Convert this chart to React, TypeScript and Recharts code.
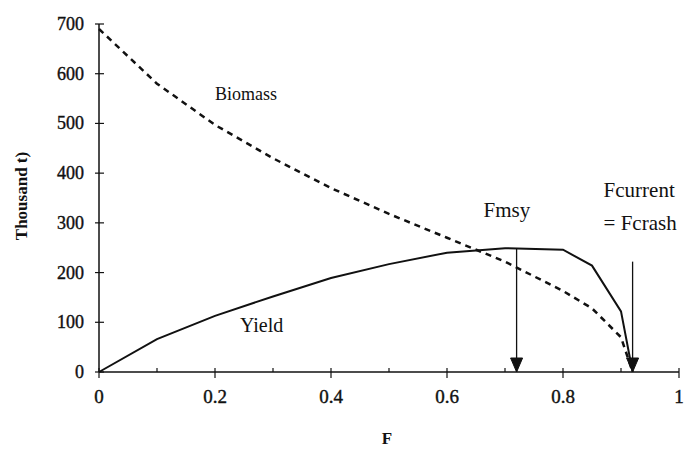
import React from "react";
import {
  LineChart,
  Line,
  XAxis,
  YAxis,
  ReferenceDot,
  Label,
} from "recharts";

// fishing mortality F on the x axis
const fValues = [0, 0.1, 0.2, 0.3, 0.4, 0.5, 0.6, 0.7, 0.8, 0.85, 0.9, 0.92];
const yieldValues = [0, 66, 113, 152, 189, 217, 240, 249, 246, 214, 122, 0];
const biomassValues = [690, 580, 497, 430, 370, 318, 270, 222, 163, 128, 70, 0];

const xTicks = [0, 0.1, 0.2, 0.3, 0.4, 0.5, 0.6, 0.7, 0.8, 0.9, 1];
const yTicks = [0, 100, 200, 300, 400, 500, 600, 700];

const fmsy = 0.72;
const fcrash = 0.92;
const fmsyArrowTop = 249;
const fcrashArrowTop = 222;

const annotations = [
  { f: 0.2, v: 548, text: "Biomass", size: 18 },
  { f: 0.243, v: 81, text: "Yield", size: 20 },
  { f: 0.663, v: 312, text: "Fmsy", size: 21 },
  { f: 0.87, v: 353, text: "Fcurrent", size: 21 },
  { f: 0.87, v: 286, text: "= Fcrash", size: 21 },
];

const data = fValues.map((f, i) => ({
  f,
  yield: yieldValues[i],
  biomass: biomassValues[i],
}));

const fmsyArrow = [
  { f: fmsy, v: fmsyArrowTop },
  { f: fmsy, v: 0 },
];
const fcrashArrow = [
  { f: fcrash, v: fcrashArrowTop },
  { f: fcrash, v: 0 },
];

const INK = "#111";
const FONT = "'Liberation Serif', 'Times New Roman', serif";

const fmtF = (v: number) => (v === 0 ? "0" : v === 1 ? "1" : v.toFixed(1));

const XTick = ({ x, y, payload }: any) => {
  const v = payload.value;
  const major = Math.round(v * 10) % 2 === 0;
  return (
    <g>
      <line
        x1={x}
        x2={x}
        y1={y - 4}
        y2={major ? y + 6 : y}
        stroke={INK}
        strokeWidth={1.2}
      />
      {major && (
        <text
          x={x}
          y={y + 31}
          textAnchor="middle"
          fontSize={19}
          fontFamily={FONT}
          fill={INK}
          stroke={INK}
          strokeWidth={0.4}
        >
          {fmtF(v)}
        </text>
      )}
    </g>
  );
};

const YTick = ({ x, y, payload }: any) => (
  <g>
    <line x1={x - 4} x2={x + 5} y1={y} y2={y} stroke={INK} strokeWidth={1.2} />
    <text
      x={x - 15}
      y={y + 6}
      textAnchor="end"
      fontSize={18}
      fontFamily={FONT}
      fill={INK}
      stroke={INK}
      strokeWidth={0.4}
    >
      {payload.value}
    </text>
  </g>
);

const ArrowHead = (props: any) => {
  const { cx, cy, index } = props;
  if (index !== 1) return <g key={`a-${index}`} />;
  return (
    <path
      key={`a-${index}`}
      d={`M${cx - 6},${cy - 14} L${cx + 6},${cy - 14} L${cx},${cy} Z`}
      fill={INK}
      stroke={INK}
    />
  );
};

export default function App() {
  return (
    <div style={{ position: "absolute", left: 0, top: 0, background: "#fff" }}>
      <LineChart
        width={692}
        height={450}
        data={data}
        margin={{ top: 24, right: 13, bottom: 48, left: 0 }}
        style={{ fontFamily: FONT }}
      >
        <XAxis
          dataKey="f"
          type="number"
          domain={[0, 1]}
          ticks={xTicks}
          allowDuplicatedCategory={false}
          tick={<XTick />}
          tickLine={false}
          tickSize={0}
          tickMargin={0}
          interval={0}
          height={30}
          axisLine={{ stroke: INK, strokeWidth: 1.5 }}
        >
          <Label
            content={(p: any) => {
              const vb = p.viewBox;
              return (
                <text
                  x={vb.x + vb.width / 2 - 2}
                  y={vb.y + 72}
                  textAnchor="middle"
                  fontSize={17}
                  fontWeight="bold"
                  fontFamily={FONT}
                  fill={INK}
                >
                  F
                </text>
              );
            }}
          />
        </XAxis>
        <YAxis
          type="number"
          domain={[0, 700]}
          ticks={yTicks}
          tick={<YTick />}
          tickLine={false}
          tickSize={0}
          tickMargin={0}
          interval={0}
          width={99}
          axisLine={{ stroke: INK, strokeWidth: 1.5 }}
        >
          <Label
            content={(p: any) => {
              const vb = p.viewBox;
              const cy = vb.y + vb.height / 2 - 2;
              return (
                <text
                  x={21}
                  y={cy}
                  transform={`rotate(-90 21 ${cy})`}
                  textAnchor="middle"
                  dominantBaseline="central"
                  fontSize={17}
                  fontWeight="bold"
                  fontFamily={FONT}
                  fill={INK}
                >
                  Thousand t)
                </text>
              );
            }}
          />
        </YAxis>
        <Line
          type="linear"
          dataKey="biomass"
          stroke={INK}
          strokeWidth={2.5}
          strokeDasharray="6 5"
          dot={false}
          isAnimationActive={false}
        />
        <Line
          type="linear"
          dataKey="yield"
          stroke={INK}
          strokeWidth={2}
          dot={false}
          isAnimationActive={false}
        />
        <Line
          data={fmsyArrow}
          dataKey="v"
          stroke={INK}
          strokeWidth={1.3}
          dot={<ArrowHead />}
          isAnimationActive={false}
        />
        <Line
          data={fcrashArrow}
          dataKey="v"
          stroke={INK}
          strokeWidth={1.3}
          dot={<ArrowHead />}
          isAnimationActive={false}
        />
        {annotations.map((a) => (
          <ReferenceDot
            key={a.text}
            x={a.f}
            y={a.v}
            ifOverflow="visible"
            shape={(p: any) => (
              <text
                x={p.cx}
                y={p.cy}
                fontSize={a.size}
                fontFamily={FONT}
                fill={INK}
              >
                {a.text}
              </text>
            )}
          />
        ))}
      </LineChart>
    </div>
  );
}
